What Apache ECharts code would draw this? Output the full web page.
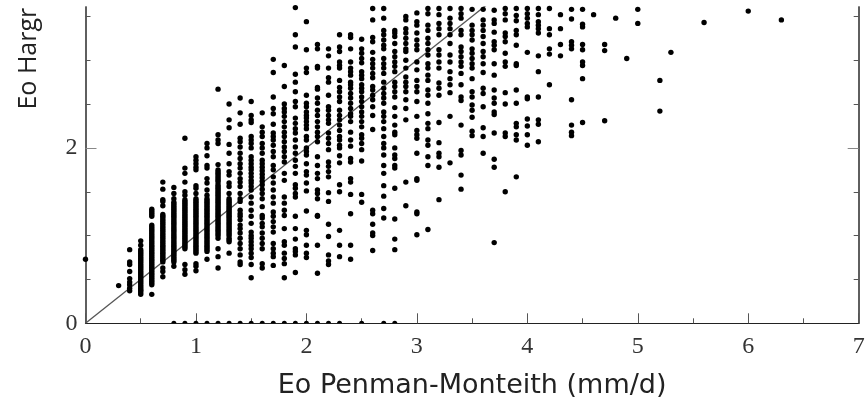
<!DOCTYPE html>
<html><head><meta charset="utf-8">
<style>html,body{margin:0;padding:0;background:#fff}#c{width:868px;height:398px}</style>
<script src="https://cdn.jsdelivr.net/npm/echarts@6/dist/echarts.min.js"></script>
</head><body><div id="c"></div>
<script>
const xTickLabels=[0,1,2,3,4,5,6,7];
const yTickLabels=[0,2];
const yMinorTicks=[0.5,1,1.5,2.5,3,3.5];
const refLine=[[0,0],[3.7,3.7]];
const zeroValueX=[0.8,0.9,1,1.1,1.2,1.3,1.4,1.5,1.6,1.7,1.8,1.9,2,2.1,2.2,2.3,2.5,2.7,2.8];
const c00=[0.73];
const c03=[0.43];
const c04=[0.84,0.70,0.67,0.59,0.51,0.47,0.44,0.40,0.37];
const c05=[0.94,0.89,0.84,0.82,0.80,0.78,0.76,0.74,0.72,0.70,0.68,0.66,0.64,0.62,0.60,0.58,0.56,0.54,0.52,0.50,0.48,0.46,0.44,0.42,0.40,0.38,0.37,0.35,0.33];
const c06=[1.30,1.28,1.26,1.24,1.22,1.12,1.10,1.08,1.06,1.04,1.02,1.00,0.98,0.96,0.94,0.92,0.90,0.88,0.86,0.84,0.82,0.80,0.78,0.76,0.74,0.72,0.70,0.68,0.66,0.64,0.62,0.60,0.58,0.56,0.54,0.52,0.50,0.48,0.46,0.44,0.33];
const c07=[1.61,1.53,1.41,1.39,1.34,1.24,1.22,1.20,1.18,1.16,1.14,1.12,1.10,1.08,1.06,1.04,1.02,1.00,0.98,0.96,0.94,0.92,0.90,0.88,0.86,0.84,0.82,0.80,0.78,0.76,0.74,0.72,0.70,0.63,0.59,0.53];
const c08=[1.55,1.48,1.42,1.38,1.36,1.34,1.32,1.30,1.28,1.26,1.24,1.22,1.20,1.18,1.16,1.14,1.12,1.10,1.08,1.06,1.04,1.02,1.00,0.98,0.96,0.94,0.92,0.90,0.88,0.86,0.84,0.82,0.80,0.78,0.76,0.74,0.72,0.70,0.65];
const c09=[2.11,1.77,1.71,1.61,1.50,1.46,1.41,1.39,1.37,1.35,1.33,1.31,1.29,1.27,1.25,1.23,1.21,1.19,1.17,1.15,1.13,1.11,1.09,1.07,1.05,1.03,1.01,0.99,0.97,0.95,0.93,0.91,0.89,0.87,0.85,0.67,0.61,0.56];
const c10=[1.90,1.86,1.82,1.78,1.75,1.57,1.54,1.48,1.42,1.40,1.38,1.36,1.34,1.32,1.30,1.28,1.26,1.24,1.22,1.20,1.18,1.16,1.14,1.12,1.10,1.08,1.06,1.04,1.02,1.00,0.98,0.96,0.94,0.92,0.90,0.88,0.86,0.84,0.82,0.80,0.68,0.65,0.60];
const c11=[2.05,2.00,1.91,1.80,1.77,1.65,1.60,1.52,1.46,1.42,1.40,1.38,1.36,1.34,1.32,1.30,1.28,1.26,1.24,1.22,1.20,1.18,1.16,1.14,1.12,1.10,1.08,1.06,1.04,1.02,1.00,0.98,0.96,0.94,0.92,0.90,0.88,0.86,0.84,0.82,0.73];
const c12=[2.67,2.15,2.09,2.05,1.81,1.75,1.73,1.71,1.69,1.67,1.65,1.63,1.61,1.58,1.56,1.54,1.52,1.50,1.48,1.46,1.44,1.42,1.40,1.38,1.36,1.34,1.32,1.30,1.28,1.26,1.24,1.22,1.20,1.18,1.16,1.14,1.12,1.10,1.08,1.06,1.04,1.02,1.00,0.97,0.85,0.76,0.63];
const c13=[2.50,2.32,2.23,2.04,1.94,1.82,1.73,1.69,1.60,1.56,1.48,1.42,1.40,1.38,1.36,1.34,1.32,1.30,1.28,1.26,1.24,1.22,1.20,1.18,1.16,1.14,1.12,1.10,1.08,1.06,1.04,1.02,1.00,0.97,0.95,0.93,0.80];
const c14=[2.57,2.40,2.27,2.11,2.07,2.01,1.94,1.88,1.82,1.77,1.71,1.65,1.61,1.56,1.48,1.42,1.39,1.29,1.25,1.22,1.18,1.12,1.08,1.03,0.97,0.91,0.85,0.78,0.70,0.67];
const c15=[2.53,2.37,2.32,2.29,2.13,2.09,2.05,2.00,1.90,1.86,1.82,1.78,1.75,1.71,1.67,1.63,1.60,1.56,1.52,1.44,1.37,1.29,1.22,1.14,1.04,1.00,0.97,0.93,0.89,0.85,0.80,0.75,0.67,0.52];
const c16=[2.40,2.24,2.18,2.13,2.05,2.00,1.94,1.86,1.82,1.78,1.74,1.70,1.66,1.62,1.58,1.53,1.48,1.42,1.33,1.23,1.20,1.14,1.10,1.03,0.97,0.91,0.85,0.68,0.63];
const c17=[3.01,2.86,2.58,2.45,2.39,2.27,2.17,2.13,2.09,2.03,1.96,1.90,1.80,1.75,1.67,1.60,1.52,1.44,1.37,1.27,1.22,1.16,1.10,1.04,0.91,0.85,0.80,0.76,0.66];
const c18=[2.94,2.70,2.50,2.45,2.41,2.36,2.30,2.24,2.18,2.13,2.07,2.01,1.96,1.90,1.84,1.71,1.63,1.44,1.37,1.29,1.23,1.08,0.93,0.89,0.80,0.74,0.68,0.52];
const c19=[3.60,3.29,3.15,2.84,2.75,2.64,2.53,2.47,2.34,2.28,2.22,2.17,2.09,2.01,1.94,1.86,1.79,1.71,1.58,1.54,1.48,1.44,1.22,1.08,0.96,0.85,0.82,0.78,0.58];
const c20=[3.44,3.12,2.91,2.86,2.60,2.51,2.47,2.41,2.37,2.34,2.30,2.26,2.22,2.13,2.09,2.00,1.96,1.92,1.82,1.73,1.69,1.60,1.51,1.28,1.06,1.01,0.89,0.80,0.75];
const c21=[3.18,3.13,2.93,2.91,2.69,2.67,2.57,2.51,2.43,2.37,2.30,2.24,2.18,2.13,2.07,1.90,1.80,1.71,1.65,1.52,1.48,1.42,1.23,1.22,0.89,0.57];
const c22=[3.13,3.05,2.91,2.80,2.75,2.60,2.47,2.43,2.37,2.32,2.28,2.17,2.11,2.05,1.98,1.84,1.79,1.73,1.67,1.49,1.39,1.13,0.99,0.78,0.71,0.67];
const c23=[3.29,3.15,3.10,2.98,2.94,2.91,2.77,2.69,2.64,2.58,2.53,2.43,2.37,2.32,2.26,2.20,2.13,2.09,2.03,2.00,1.91,1.83,1.58,1.50,1.06,0.89,0.76];
const c24=[3.29,3.26,3.13,2.98,2.91,2.87,2.83,2.75,2.72,2.68,2.62,2.57,2.51,2.45,2.39,2.36,2.30,2.18,2.09,2.02,1.88,1.84,1.65,1.61,1.47,1.25,0.89,0.73];
const c25=[3.24,3.13,3.08,3.02,2.97,2.87,2.83,2.79,2.72,2.68,2.64,2.58,2.53,2.47,2.41,2.36,2.30,2.24,2.15,2.11,2.05,1.98,1.85,1.47,1.38];
const c26=[3.59,3.46,3.26,3.21,3.09,3.01,2.96,2.91,2.85,2.80,2.70,2.66,2.60,2.55,2.47,2.37,2.21,1.29,1.25,1.13,1.03,1.00,0.83];
const c27=[3.59,3.48,3.34,3.29,3.23,3.17,3.13,3.02,2.96,2.91,2.85,2.75,2.68,2.62,2.57,2.51,2.41,2.36,2.30,2.22,2.13,2.05,2.00,1.92,1.80,1.71,1.57,1.45,1.31,1.20];
const c28=[3.34,3.31,3.27,3.19,3.10,3.04,2.98,2.93,2.87,2.75,2.70,2.64,2.58,2.46,2.36,2.26,2.18,2.15,2.00,1.92,1.88,1.80,1.77,1.54,1.19,0.96,0.84];
const c29=[3.50,3.46,3.36,3.31,3.25,3.19,3.13,3.10,3.00,2.91,2.81,2.75,2.70,2.64,2.55,2.45,2.32,1.61,1.34];
const c30=[3.54,3.44,3.40,3.31,3.23,3.17,3.12,2.98,2.89,2.77,2.70,2.64,2.53,2.36,2.20,2.15,2.11,1.94,1.65,1.63,1.27,1.25,1.01];
const c31=[3.59,3.53,3.40,3.34,3.25,3.19,3.12,3.06,2.96,2.91,2.83,2.77,2.66,2.60,2.51,2.39,2.28,2.22,2.09,2.03,1.90,1.80,1.07];
const c32=[3.59,3.52,3.42,3.36,3.29,3.12,3.06,2.98,2.91,2.74,2.68,2.60,2.29,2.06,1.94,1.90,1.78,1.41];
const c33=[3.59,3.48,3.42,3.36,3.29,3.19,3.06,2.98,2.87,2.79,2.72,2.63,2.36,1.83];
const c34=[3.59,3.53,3.48,3.34,3.29,3.15,3.10,3.04,2.98,2.93,2.85,2.72,2.58,2.54,2.26,1.97,1.92,1.69,1.53];
const c35=[3.58,3.40,3.34,3.29,3.23,3.13,3.08,3.02,2.96,2.91,2.79,2.64,2.58,2.49,2.43,2.35,2.19,2.14];
const c36=[3.58,3.46,3.40,3.34,3.27,3.19,3.10,3.04,2.96,2.86,2.68,2.62,2.47,2.23,2.13,1.94];
const c37=[3.57,3.46,3.42,3.32,3.21,3.17,3.12,2.96,2.83,2.66,2.57,2.51,2.41,2.38,2.17,1.87,1.78,0.92];
const c38=[3.59,3.53,3.46,3.31,3.27,3.21,3.08,2.98,2.93,2.63,2.50,2.17,2.13,1.50];
const c39=[3.59,3.51,3.45,3.34,3.29,3.17,2.96,2.94,2.66,2.51,2.28,2.24,2.15,2.09,1.67];
const c40=[3.59,3.53,3.48,3.42,3.38,3.09,2.58,2.56,2.33,2.25,2.15,2.03];
const c41=[3.59,3.52,3.44,3.40,3.36,3.31,3.05,2.87,2.58,2.32,2.27,2.07];
const c42=[3.59,3.36,3.29,3.13,3.07,2.72];
const c43=[3.52,3.36,3.18,3.05];
const c44=[3.58,3.47,3.21,3.17,3.13,2.55,2.26,2.18,2.14];
const c45=[3.58,3.41,3.38,3.18,3.12,2.98,2.94,2.79,2.29];
const c46=[3.52];
const c47=[3.18,3.11,2.31];
const c48=[3.48];
const c49=[3.02];
const c50=[3.58,3.42];
const c52=[2.77,2.42];
const c53=[3.09];
const c56=[3.43];
const c60=[3.56];
const c63=[3.46];
const columns=[[0,c00],[0.3,c03],[0.4,c04],[0.5,c05],[0.6,c06],[0.7,c07],[0.8,c08],[0.9,c09],[1,c10],[1.1,c11],[1.2,c12],[1.3,c13],[1.4,c14],[1.5,c15],[1.6,c16],[1.7,c17],[1.8,c18],[1.9,c19],[2,c20],[2.1,c21],[2.2,c22],[2.3,c23],[2.4,c24],[2.5,c25],[2.6,c26],[2.7,c27],[2.8,c28],[2.9,c29],[3,c30],[3.1,c31],[3.2,c32],[3.3,c33],[3.4,c34],[3.5,c35],[3.6,c36],[3.7,c37],[3.8,c38],[3.9,c39],[4,c40],[4.1,c41],[4.2,c42],[4.3,c43],[4.4,c44],[4.5,c45],[4.6,c46],[4.7,c47],[4.8,c48],[4.9,c49],[5,c50],[5.2,c52],[5.3,c53],[5.6,c56],[6,c60],[6.3,c63]];
const points=[];
columns.forEach(([x,vals])=>vals.forEach(v=>points.push([x,v])));
const zeroPoints=zeroValueX.map(x=>[x,0]);

const serif='"Liberation Serif","Times New Roman",serif';
const sideAxis=(position,extra)=>Object.assign({type:'value',min:0,max:3.607,position,splitLine:{show:false},
  axisLine:{show:true,onZero:false,lineStyle:{color:'#555',width:1.5}}},extra);
const chart=echarts.init(document.getElementById('c'),null,{renderer:'canvas'});
chart.setOption({
  animation:false,backgroundColor:'#fff',
  grid:{left:85.5,right:9.3,top:7,bottom:74.7,containLabel:false,outerBoundsMode:'none'},
  xAxis:{type:'value',min:0,max:7,interval:1,splitLine:{show:false},
    name:'Eo Penman-Monteith (mm/d)',nameLocation:'middle',nameGap:49,
    nameTextStyle:{fontFamily:'"DejaVu Sans",sans-serif',fontSize:27,color:'#222'},
    axisLine:{show:true,onZero:false,lineStyle:{color:'#222',width:1.2}},
    axisTick:{show:true,inside:true,length:10,lineStyle:{color:'#555',width:1}},
    minorTick:{show:true,splitNumber:2,length:5,lineStyle:{color:'#555',width:1}},
    axisLabel:{show:true,margin:11,fontFamily:serif,fontSize:24,color:'#333',formatter:v=>xTickLabels.includes(v)?String(v):''}},
  yAxis:[
    sideAxis('left',{name:'Eo Hargr',nameLocation:'middle',nameGap:44,nameRotate:90,
      nameTextStyle:{fontFamily:'"Open Sans",sans-serif',fontSize:25,color:'#222',padding:[0,0,0,213]},
      axisTick:{show:true,inside:true,length:5,customValues:yMinorTicks,lineStyle:{color:'#555',width:1}},
      axisLabel:{show:true,margin:8,fontFamily:serif,fontSize:24,color:'#333',customValues:yTickLabels}}),
    sideAxis('left',{axisTick:{show:true,inside:true,length:11,customValues:[2],lineStyle:{color:'#888',width:1}},axisLabel:{show:false}}),
    sideAxis('right',{axisTick:{show:true,inside:true,length:5,customValues:yMinorTicks,lineStyle:{color:'#555',width:1}},axisLabel:{show:false}}),
    sideAxis('right',{axisTick:{show:true,inside:true,length:11,customValues:[2],lineStyle:{color:'#888',width:1}},axisLabel:{show:false}})
  ],
  series:[
    {type:'line',data:refLine,symbol:'none',clip:true,lineStyle:{color:'#555',width:1.3},silent:true,z:1},
    {type:'scatter',data:points,symbol:'circle',symbolSize:5.4,itemStyle:{color:'#000',opacity:1},clip:true,silent:true,z:2},
    {type:'scatter',data:zeroPoints,symbol:'path://M0 5A5 5 0 0 1 10 5Z',symbolSize:[5,2.5],symbolOffset:[0,-1.25],symbolKeepAspect:false,itemStyle:{color:'#000',opacity:1},silent:true,z:2}
  ]
});
</script></body></html>
